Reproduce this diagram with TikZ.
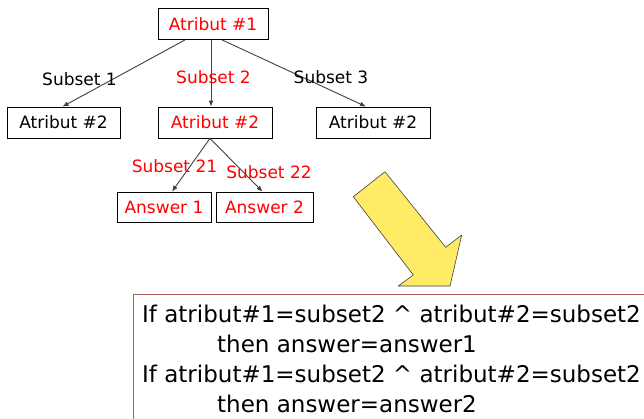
\documentclass[tikz,border=0pt]{standalone}
\usepackage{fontspec}
\usetikzlibrary{arrows.meta}
\setmainfont{DejaVu Sans}
\definecolor{arrowyellow}{RGB}{255,235,102}
\definecolor{rulered}{RGB}{176,90,90}
\definecolor{edgegray}{RGB}{64,64,64}
\begin{document}
\begin{tikzpicture}
    [
    x=1pt,y=-1pt,
    attr/.style={rectangle,draw,line width=0.8pt,inner sep=0pt,minimum height=31pt,font=\fontsize{17}{20}\selectfont},
    redattr/.style={attr,text=red},
    sublabel/.style={inner sep=0pt,font=\fontsize{17}{20}\selectfont},
    rule/.style={anchor=base west,inner sep=0pt,font=\fontsize{23}{28}\selectfont},
    edge/.style={draw=edgegray,line width=0.9pt,-{Latex[length=6pt,width=5pt]}}
    ]
    \useasboundingbox (0,0) rectangle (644,418);
    \clip (0,0) rectangle (644,418);
    % tree
    \node (a1) at (213,24) [redattr,minimum width=110pt] {Atribut \#1};
    \node (a2l) at (63.5,122.5) [attr,minimum width=113pt] {Atribut \#2};
    \node (a2m) at (215,122.5) [redattr,minimum width=114pt] {Atribut \#2};
    \node (a2r) at (373,122.5) [attr,minimum width=114pt] {Atribut \#2};
    \node (ans1) at (164,207) [redattr,minimum width=94pt,minimum height=30pt] {Answer 1};
    \node (ans2) at (264.5,207) [redattr,minimum width=97pt,minimum height=30pt] {Answer 2};
    \draw [edge] ([xshift=-28pt]a1.south) to ([xshift=-1pt]a2l.north);
    \draw [edge] ([xshift=-2pt]a1.south) to ([xshift=-4pt]a2m.north);
    \draw [edge] ([xshift=9pt]a1.south) to ([xshift=-7pt]a2r.north);
    \draw [edge] ([xshift=-5pt]a2m.south) to ([xshift=8pt]ans1.north);
    \draw [edge] ([xshift=-5pt]a2m.south) to ([xshift=-2pt]ans2.north);
    % edge labels
    \node (s1) at (79.5,79) [sublabel] {Subset 1};
    \node (s2) at (213.5,77) [sublabel,text=red] {Subset 2};
    \node (s3) at (331,77) [sublabel] {Subset 3};
    \node (s21) at (174.5,166) [sublabel,text=red] {Subset 21};
    \node (s22) at (269,172) [sublabel,text=red] {Subset 22};
    % big arrow
    \draw [fill=arrowyellow,draw=edgegray,line width=0.6pt,line join=round]
      (353.3,196.7) -- (385,171.7) -- (445.7,247.3) -- (461.7,235)
      -- (450,286) -- (398.3,286) -- (413.3,275) -- cycle;
    % rules
    \draw [rulered,line width=0.8pt] (133,294) rectangle (660,430);
    \node (r1) at (142,322) [rule] {If atribut\#1=subset2 \textasciicircum{} atribut\#2=subset2};
    \node (r2) at (217,352) [rule] {then answer=answer1};
    \node (r3) at (142,382) [rule] {If atribut\#1=subset2 \textasciicircum{} atribut\#2=subset2};
    \node (r4) at (217,412) [rule] {then answer=answer2};
  \end{tikzpicture}
\end{document}
